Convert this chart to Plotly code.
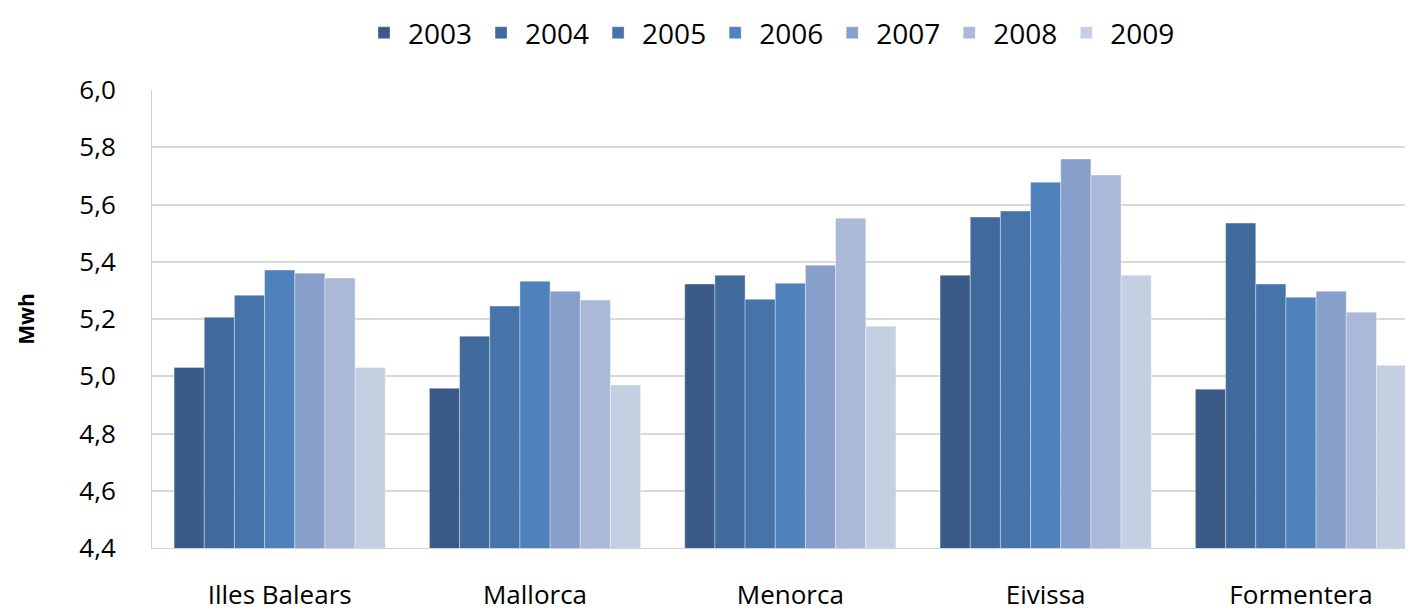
import plotly.graph_objects as go

islands = ["Illes Balears", "Mallorca", "Menorca", "Eivissa", "Formentera"]
years = ["2003", "2004", "2005", "2006", "2007", "2008", "2009"]

v2003 = [5.031, 4.958, 5.322, 5.353, 4.955]
v2004 = [5.206, 5.140, 5.353, 5.556, 5.535]
v2005 = [5.283, 5.245, 5.269, 5.577, 5.322]
v2006 = [5.371, 5.332, 5.325, 5.678, 5.276]
v2007 = [5.360, 5.297, 5.388, 5.759, 5.297]
v2008 = [5.343, 5.266, 5.552, 5.703, 5.224]
v2009 = [5.031, 4.969, 5.175, 5.353, 5.038]

series = [v2003, v2004, v2005, v2006, v2007, v2008, v2009]
colors = ["#3a5a87", "#416a9c", "#4773ab", "#4f81bd", "#87a0cb", "#abb9d8", "#c5cfe2"]

font = "Open Sans, Noto Sans, sans-serif"

fig = go.Figure()
for year, vals, col in zip(years, series, colors):
    fig.add_trace(go.Bar(
        x=islands, y=vals, name=year,
        marker=dict(color=col, line=dict(color="rgba(255,255,255,0.35)", width=1)),
    ))

# page body has an 8px margin, so the figure is offset by 8px
fig.update_layout(
    width=1413, height=610,
    barmode="group", bargap=0.173, bargroupgap=0,
    separators=",.",
    plot_bgcolor="white", paper_bgcolor="white",
    margin=dict(l=144, r=0, t=82, b=70, autoexpand=False),
    font=dict(family=font, size=25, color="#000000"),
    legend=dict(
        orientation="h", x=0.487, xanchor="center", y=1.179, yanchor="top",
        font=dict(size=28), itemwidth=38, traceorder="normal",
    ),
    xaxis=dict(
        range=[-0.5, 4.47], showline=True, linecolor="#d0d0d0", linewidth=1,
        ticks="outside", ticklen=24, tickcolor="white", tickfont=dict(size=26),
        showgrid=False, automargin=False,
    ),
    yaxis=dict(
        range=[4.4, 6.0], dtick=0.2, tickformat=".1f",
        showgrid=True, gridcolor="#d9d9d9", gridwidth=1.5,
        showline=True, linecolor="#d0d0d0", linewidth=1,
        ticks="outside", ticklen=30, tickcolor="white", tickfont=dict(size=26),
        title=dict(text="<b>Mwh</b>", font=dict(size=21), standoff=38),
        zeroline=False, automargin=False,
    ),
)

fig.write_html("out.html")
